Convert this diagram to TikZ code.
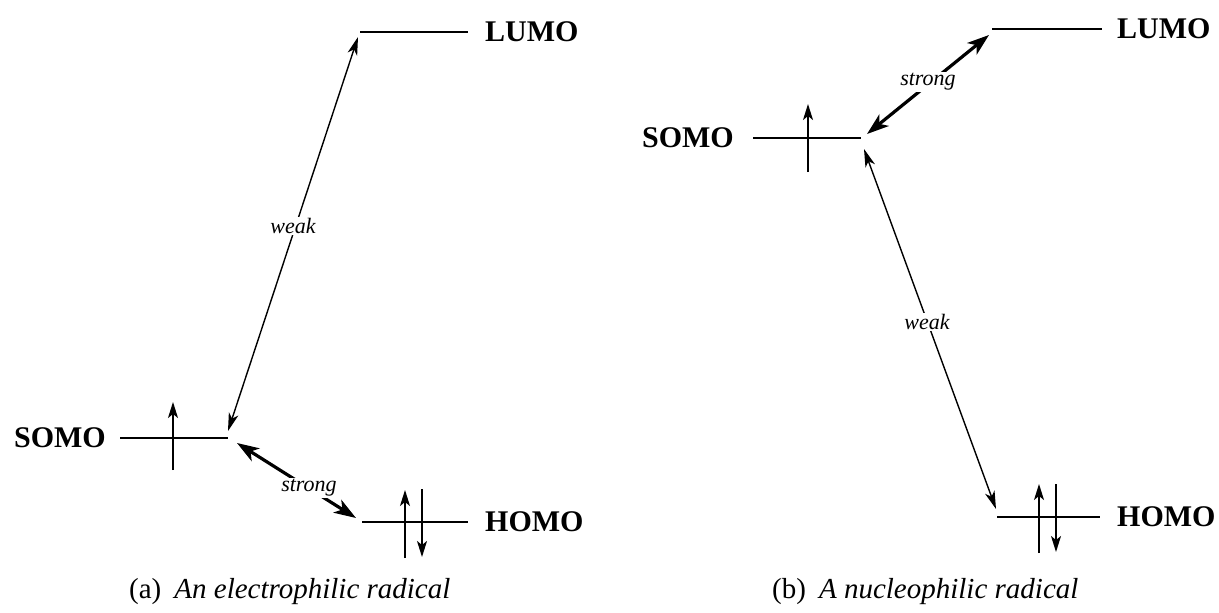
\documentclass[tikz,border=0pt]{standalone}
\usepackage{fontspec}
\setmainfont{Liberation Serif}
\usetikzlibrary{arrows.meta}
\begin{document}
\begin{tikzpicture}[x=1pt,y=-1pt,
 level/.style={line width=1.8pt},
 lab/.style={font=\fontsize{30}{30}\selectfont\bfseries, inner sep=0pt},
 spin/.style={line width=1.7pt,-{Stealth[length=16pt,width=10pt,inset=4pt]}},
 weakarr/.style={line width=1.4pt,{Stealth[length=18pt,width=10pt,inset=5pt]}-{Stealth[length=18pt,width=10pt,inset=5pt]}},
 strongarr/.style={line width=3.2pt,{Stealth[length=22pt,width=15pt,inset=6pt]}-{Stealth[length=22pt,width=15pt,inset=6pt]}},
 tag/.style={font=\fontsize{22}{22}\selectfont\itshape, fill=white, inner sep=1pt},
 captxt/.style={font=\fontsize{29}{29}\selectfont, anchor=base west, inner sep=0pt}]
\useasboundingbox (0,0) rectangle (1219,613);

% ---------- (a) ----------
\coordinate (aLa) at (360,32); \coordinate (aLb) at (468,32);
\coordinate (aSa) at (120,438); \coordinate (aSb) at (228,438);
\coordinate (aHa) at (362,522); \coordinate (aHb) at (468,522);
\draw[level] (aLa) -- (aLb);
\draw[level] (aSa) -- (aSb);
\draw[level] (aHa) -- (aHb);
\node[lab,anchor=west] (aLUMO) at (485,32) {LUMO};
\node[lab,anchor=east] (aSOMO) at (106,438) {SOMO};
\node[lab,anchor=west] (aHOMO) at (485,522) {HOMO};
% spins
\coordinate (aS1b) at (173,470); \coordinate (aS1t) at (173,402);
\draw[spin] (aS1b) -- (aS1t);
\coordinate (aH1b) at (405,558); \coordinate (aH1t) at (405,490);
\coordinate (aH2t) at (422,489); \coordinate (aH2b) at (422,557);
\draw[spin] (aH1b) -- (aH1t);
\draw[spin] (aH2t) -- (aH2b);
% interactions
\coordinate (aW1) at (228,431); \coordinate (aW2) at (358,37);
\draw[weakarr] (aW1) -- (aW2);
\node[tag] (aweak) at (293,226) {weak};
\coordinate (aT1) at (237,443); \coordinate (aT2) at (356,518);
\draw[strongarr] (aT1) -- (aT2);
\node[tag] (astrong) at (309,488) {strong};
\node[captxt] (acap) at (129,598) {(a)\hspace{0.45em}\textit{An electrophilic radical}};

% ---------- (b) ----------
\coordinate (bLa) at (992,29); \coordinate (bLb) at (1102,29);
\coordinate (bSa) at (753,138); \coordinate (bSb) at (861,138);
\coordinate (bHa) at (997,517); \coordinate (bHb) at (1100,517);
\draw[level] (bLa) -- (bLb);
\draw[level] (bSa) -- (bSb);
\draw[level] (bHa) -- (bHb);
\node[lab,anchor=west] (bLUMO) at (1117,29) {LUMO};
\node[lab,anchor=east] (bSOMO) at (734,138) {SOMO};
\node[lab,anchor=west] (bHOMO) at (1117,517) {HOMO};
% spins
\coordinate (bS1b) at (808,172); \coordinate (bS1t) at (808,104);
\draw[spin] (bS1b) -- (bS1t);
\coordinate (bH1b) at (1039,553); \coordinate (bH1t) at (1039,484);
\coordinate (bH2t) at (1056,484); \coordinate (bH2b) at (1056,552);
\draw[spin] (bH1b) -- (bH1t);
\draw[spin] (bH2t) -- (bH2b);
% interactions
\coordinate (bT1) at (867,134); \coordinate (bT2) at (989,35);
\draw[strongarr] (bT1) -- (bT2);
\node[tag] (bstrong) at (928,82) {strong};
\coordinate (bW1) at (864,149); \coordinate (bW2) at (996,509);
\draw[weakarr] (bW1) -- (bW2);
\node[tag] (bweak) at (927,322) {weak};
\node[captxt] (bcap) at (772,598) {(b)\hspace{0.45em}\textit{A nucleophilic radical}};
\end{tikzpicture}
\end{document}
